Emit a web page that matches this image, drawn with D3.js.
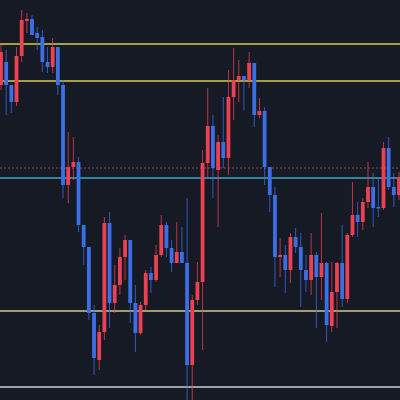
<!DOCTYPE html>
<meta charset="utf-8">
<script src="https://d3js.org/d3.v7.min.js"></script>
<style>
  body { margin: 0; background: #161a25; }
</style>
<div id="chart"></div>
<script>
  // candle values, price units (one bar per index)
  const opens  = [315,338,315,298,344,379,381,367,363,338,333,353,315,215,233,238,175,153,87,40,
                  68,177,97,115,143,160,97,67,95,127,120,145,175,152,137,148,137,35,100,118,
                  237,274,230,258,242,303,320,324,320,337,285,289,233,205,143,145,130,163,153,130,
                  120,145,123,137,74,108,137,101,165,185,178,198,213,193,192,252,213,205];
  const closes = [348,315,298,344,380,381,365,362,338,333,353,315,215,233,238,175,153,87,42,68,
                  177,97,115,143,160,97,67,95,127,120,145,175,152,137,148,137,35,100,118,237,
                  274,232,258,242,303,320,324,320,337,285,289,233,205,143,145,130,163,153,130,120,
                  145,123,137,75,108,137,101,165,185,178,198,213,192,192,252,213,205,223];
  const highs  = [355,350,315,353,390,387,385,373,370,353,362,353,320,268,263,243,175,153,95,75,
                  183,188,135,152,165,160,115,98,130,133,155,185,178,160,178,173,202,105,138,250,
                  312,285,265,303,330,352,340,324,348,337,302,293,233,213,162,155,167,172,167,145,
                  167,148,187,138,138,138,175,167,218,198,202,238,227,222,258,263,227,228];
  const lows   = [310,285,287,294,338,367,365,350,328,327,327,305,202,197,220,168,135,80,25,30,
                  60,72,87,105,120,77,48,65,90,107,118,143,143,128,137,137,0,0,95,50,
                  223,202,173,232,225,280,298,290,312,273,282,215,188,113,123,107,117,147,93,108,
                  105,72,100,58,68,72,93,97,163,163,170,192,173,183,190,210,193,200];

  // horizontal levels
  const levels = [
    {price: 356, color: "#d8cc4e", dash: null},
    {price: 319, color: "#d8cc4e", dash: null},
    {price: 232, color: "#a0444c", dash: "2,2"},
    {price: 222, color: "#3fa6c4", dash: null},
    {price: 89,  color: "#cfc98e", dash: null},
    {price: 13,  color: "#c9ccd2", dash: null}
  ];

  const width = 400, height = 400;
  const upColor = "#ec4150", downColor = "#3c6fe6";

  const svg = d3.select("#chart").append("svg")
      .attr("width", width).attr("height", height)
      .style("display", "block")
      .style("background", "#161a25");

  const x = d3.scaleLinear().domain([0, opens.length - 1]).range([1, 399]);
  const y = d3.scaleLinear().domain([0, 400]).range([height, 0]);

  const data = opens.map((o, i) => ({i, o, c: closes[i], h: highs[i], l: lows[i]}));

  // level lines
  svg.selectAll("line.level").data(levels).join("line")
      .attr("x1", 0).attr("x2", width)
      .attr("y1", d => y(d.price)).attr("y2", d => y(d.price))
      .attr("stroke", d => d.color)
      .attr("stroke-width", d => d.dash ? 1 : 1.3)
      .attr("stroke-dasharray", d => d.dash);

  const candle = svg.selectAll("g.candle").data(data).join("g")
      .attr("fill", d => d.c >= d.o ? upColor : downColor)
      .attr("stroke", d => d.c >= d.o ? upColor : downColor);

  // wicks
  candle.append("line")
      .attr("x1", d => x(d.i)).attr("x2", d => x(d.i))
      .attr("y1", d => y(d.h)).attr("y2", d => y(d.l))
      .attr("stroke-width", 1).attr("stroke-opacity", 0.75);

  // bodies
  candle.append("rect")
      .attr("x", d => x(d.i) - 1.9)
      .attr("width", 3.8)
      .attr("y", d => y(Math.max(d.o, d.c)))
      .attr("height", d => Math.max(1.5, Math.abs(y(d.o) - y(d.c))))
      .attr("stroke", "none");
</script>
